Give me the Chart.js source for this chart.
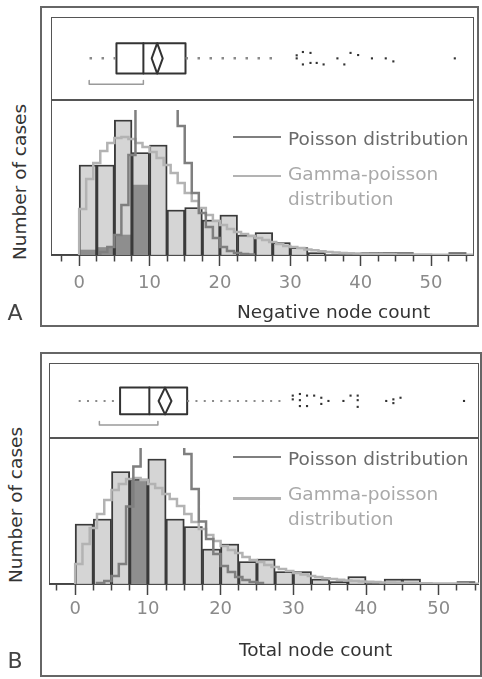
<!DOCTYPE html>
<html>
<head>
<meta charset="utf-8">
<title>Node count distributions</title>
<script src="https://cdn.jsdelivr.net/npm/chart.js@4.4.1/dist/chart.umd.min.js"></script>
<style>
  html,body{margin:0;padding:0;background:#fff;}
  body{position:relative;width:482px;height:679px;overflow:hidden;font-family:"DejaVu Sans",sans-serif;}
  .frame{position:absolute;box-sizing:border-box;}
  .outer{border:2px solid #666;}
  .inner{border:1.5px solid #555;}
  .hline{position:absolute;height:1.5px;background:#555;}
  canvas{position:absolute;}
  .txt{position:absolute;white-space:nowrap;font-size:18.5px;line-height:25px;}
  .vtxt{position:absolute;white-space:nowrap;font-size:18.5px;line-height:19px;color:#333;transform:translate(-50%,-50%) rotate(-90deg);}
  .panel{position:absolute;font-size:22px;line-height:22px;color:#444;transform:translate(-50%,-50%);}
  .swatch{position:absolute;height:2.5px;width:48px;}
</style>
</head>
<body>

<!-- Panel A frames -->
<div class="frame outer" style="left:40px;top:6px;width:439px;height:321px;"></div>
<div class="frame inner" style="left:51px;top:17px;width:423px;height:239px;"></div>
<div class="hline" style="left:51px;top:99px;width:423px;"></div>
<canvas id="boxA" width="423" height="82" style="left:51px;top:17px;"></canvas>
<canvas id="histA" width="423" height="217" style="left:51px;top:110px;"></canvas>
<div class="swatch" style="left:233px;top:135.5px;background:#7f7f7f;"></div>
<div class="txt" style="left:288px;top:126px;color:#6a6a6a;">Poisson distribution</div>
<div class="swatch" style="left:233px;top:174.5px;background:#b3b3b3;"></div>
<div class="txt" style="left:288px;top:161px;color:#a9a9a9;">Gamma-poisson<br>distribution</div>
<div class="txt" style="left:237px;top:299px;color:#333;">Negative node count</div>
<div class="vtxt" style="left:19px;top:182px;">Number of cases</div>
<div class="panel" style="left:15px;top:313px;">A</div>

<!-- Panel B frames -->
<div class="frame outer" style="left:40px;top:352px;width:442px;height:325px;"></div>
<div class="frame inner" style="left:49px;top:363px;width:430px;height:222px;"></div>
<div class="hline" style="left:49px;top:437px;width:430px;"></div>
<canvas id="boxB" width="430" height="75" style="left:49px;top:363px;"></canvas>
<canvas id="histB" width="430" height="206" style="left:49px;top:448px;"></canvas>
<div class="swatch" style="left:233px;top:455.5px;background:#7f7f7f;"></div>
<div class="txt" style="left:288px;top:446px;color:#6a6a6a;">Poisson distribution</div>
<div class="swatch" style="left:233px;top:497px;background:#b3b3b3;"></div>
<div class="txt" style="left:288px;top:481px;color:#a9a9a9;">Gamma-poisson<br>distribution</div>
<div class="txt" style="left:239px;top:637px;color:#333;">Total node count</div>
<div class="vtxt" style="left:15px;top:505px;">Number of cases</div>
<div class="panel" style="left:15px;top:661px;">B</div>

<script>
// ---------------- DATA ----------------
// histogram bins (lower edges), bin width 2.5 nodes
const bins = [0, 2.5, 5, 7.5, 10, 12.5, 15, 17.5, 20, 22.5, 25, 27.5, 30, 32.5, 35, 37.5, 40, 42.5, 45, 47.5, 50, 52.5];
const binWidth = 2.5;

// Panel A: negative node count
const negativeCounts    = [36, 36, 54, 41, 44, 18, 19, 14, 16, 8, 9, 5, 3, 1, 0, 0, 1, 1, 1, 0, 0, 1];
const negativeHighlight = [2, 3, 8, 28, 0, 0, 0, 0, 0, 0, 0, 0, 0, 0, 0, 0, 0, 0, 0, 0, 0, 0];
// fitted expected cases per bin, indexed by node count k = 0,1,2,...
const poissonNegative = [0, 0, 0, 1.2, 3.2, 8, 20, 40, 68, 90, 100, 100, 92, 78, 51.6, 36.8, 24.8, 16.8, 11.2, 6.8, 3.2, 1.6, 0.8, 0.4, 0.2];
const gammaNegative = [18.4, 30.4, 36.8, 41.6, 44.8, 46.8, 47.2, 46.4, 44.8, 43.2,
                       41.2, 38.8, 36, 32.8, 28.8, 24.8, 21.6, 18.8, 16, 13.6,
                       12, 10.4, 9.2, 8.4, 7.6, 6.8, 6, 5.2, 4.4, 3.6,
                       3.2, 2.8, 2.2, 1.9, 1.5, 1.2, 1.0, 0.8, 0.7, 0.6,
                       0.5, 0.4, 0.4, 0.3, 0.3, 0.2, 0.2, 0.2, 0.2, 0.2,
                       0.1, 0.1, 0.1, 0.1, 0.1, 0.1];
// box plot: [whisker low, Q1, median, Q3, whisker high]
const boxNegative = [1, 4.9, 8.8, 14.9, 28.5];
const meanCiNegative = [10.0, 10.8, 11.6];      // lower CI, mean, upper CI
const shortestHalfNegative = [0.95, 8.8];
const outliersNegative = [31, 31, 31.9, 31.9, 33, 33, 33.9, 34.9, 36.9, 37.9, 38.8, 39.9, 41.9, 43.9, 45, 53.9];
const jitterNegative   = [0.1, 0.0, 0.21, -0.2, 0.18, -0.15, -0.15, -0.2, 0, -0.2, 0.18, 0.11, 0, 0, -0.1, 0];

// Panel B: total node count
const totalCounts    = [24, 26, 45, 42, 50, 26, 23, 14, 16, 9, 10, 5, 5, 2, 1, 3, 0, 2, 2, 0, 0, 1];
const totalHighlight = [0, 0, 0, 42, 0, 0, 0, 0, 0, 0, 0, 0, 0, 0, 0, 0, 0, 0, 0, 0, 0, 0];
const poissonTotal = [0, 0, 0, 0.4, 1.2, 3.2, 8, 31, 47, 64, 80, 88, 90, 85, 72, 52, 38, 25, 18, 12, 7.2, 4.8, 2.8, 1.6, 0.8, 0.4];
const gammaTotal = [8, 16, 22.4, 28, 33.6, 37.6, 40, 42, 42.4, 41.6,
                    40, 38.4, 36, 34, 31.2, 28, 24.8, 22, 19.6, 17.2,
                    15.2, 13.6, 12.4, 10.8, 9.6, 8.8, 7.6, 6.8, 6, 5.2,
                    4.4, 3.8, 3.2, 2.8, 2.3, 2, 1.7, 1.4, 1.2, 1.0,
                    0.9, 0.8, 0.6, 0.6, 0.5, 0.4, 0.4, 0.3, 0.3, 0.2,
                    0.2, 0.2, 0.2, 0.2, 0.1, 0.1];
const boxTotal = [0, 5.8, 9.9, 15.2, 28.4];
const meanCiTotal = [11.2, 12.1, 13.0];
const shortestHalfTotal = [2.9, 11.1];
const outliersTotal = [30, 30, 31, 31, 31, 32, 32, 33, 34, 34, 35, 37.1, 38.1, 39.1, 39.1, 39.1, 43.1, 44.1, 44.1, 45.1, 54];
const jitterTotal   = [0.2, 0.06, 0.26, 0.03, -0.19, 0.2, -0.19, 0.2, 0.12, -0.11, 0, 0, 0.2, 0.2, 0.03, -0.22, 0, 0.06, -0.08, 0.12, 0];

// axis ticks
const tickValues = [-2.5, 0, 2.5, 5, 7.5, 10, 12.5, 15, 17.5, 20, 22.5, 25, 27.5, 30, 32.5, 35, 37.5, 40, 42.5, 45, 47.5, 50, 52.5, 55];
const tickLabels = ['', '0', '', '', '', '10', '', '', '', '20', '', '', '', '30', '', '', '', '40', '', '', '', '50', '', ''];
const majorTicks = [0, 10, 20, 30, 40, 50];

// ---------------- STYLE ----------------
Chart.defaults.font.family = '"DejaVu Sans", sans-serif';
const POIS_COLOR = '#7f7f7f';
const GAMMA_COLOR = '#b3b3b3';
const BAR_FILL = '#d5d5d5';
const HIGHLIGHT_FILL = '#8e8e8e';
const OUTLINE = '#3a3a3a';

function stepPoints(arr) {
  let first = arr.findIndex(v => v > 0);
  let last = arr.length - 1;
  while (last > first && !(arr[last] > 0)) last--;
  const pts = [{x: first, y: 0}];
  for (let k = first; k <= last; k++) pts.push({x: k, y: arr[k]});
  pts.push({x: last + 1, y: arr[last]});
  return pts;
}

function makeHist(id, p) {
  const centers = bins.map(b => b + binWidth / 2);
  const barData = centers.map((c, i) => ({x: c, y: p.counts[i]}));
  const hiData = centers.map((c, i) => ({x: c, y: p.highlight[i]}));
  const barCommon = {grouped: false, barPercentage: 1, categoryPercentage: 1};
  return new Chart(document.getElementById(id), {
    type: 'bar',
    data: {
      datasets: [
        {type: 'line', label: 'Poisson distribution', data: stepPoints(p.poisson), stepped: true,
         borderColor: POIS_COLOR, borderWidth: 2.5, pointRadius: 0, fill: false, order: 0},
        {type: 'line', label: 'Gamma-poisson distribution', data: stepPoints(p.gamma), stepped: true,
         borderColor: GAMMA_COLOR, borderWidth: 2.5, pointRadius: 0, fill: false, order: 1},
        Object.assign({label: 'outline', data: barData, backgroundColor: 'rgba(0,0,0,0)',
         borderColor: OUTLINE, borderWidth: 1.2, order: 2}, barCommon),
        Object.assign({label: 'highlight', data: hiData, backgroundColor: HIGHLIGHT_FILL,
         borderWidth: 0, order: 3}, barCommon),
        Object.assign({label: 'cases', data: barData, backgroundColor: BAR_FILL,
         borderWidth: 0, order: 4}, barCommon)
      ]
    },
    options: {
      responsive: false, animation: false, events: [], devicePixelRatio: 1,
      layout: {padding: 0},
      plugins: {legend: {display: false}, tooltip: {enabled: false}},
      scales: {
        x: {
          type: 'linear', min: p.xmin, max: p.xmax, offset: false, z: 1,
          grid: {offset: false, drawOnChartArea: false, drawTicks: true, tickLength: 11,
                 tickColor: '#444', tickWidth: 1.5,
                 tickBorderDash: c => (c.tick && majorTicks.includes(c.tick.value)) ? [] : [6, 40]},
          border: {display: true, color: '#444', width: 1.5},
          ticks: {autoSkip: false, maxRotation: 0, minRotation: 0, padding: p.tickPad,
                  color: '#8a8a8a', font: {size: 18},
                  callback: (v, i) => tickLabels[i]},
          afterBuildTicks: s => { s.ticks = tickValues.map(v => ({value: v})); },
          afterFit: s => { s.height = p.axisH; s.paddingLeft = 0; s.paddingRight = 0; }
        },
        y: {display: false, min: 0, max: p.ymax}
      }
    }
  });
}

function makeBox(id, p) {
  const [wl, q1, med, q3, wh] = p.box;
  const g = p.geom;
  const h = g.hi - g.lo;
  const line = (data, extra) => Object.assign({data, showLine: true, pointRadius: 0, fill: false,
                  borderColor: '#333', borderWidth: 2, borderJoinStyle: 'round', borderCapStyle: 'round', clip: false}, extra || {});
  return new Chart(document.getElementById(id), {
    type: 'scatter',
    data: {
      datasets: [
        line([{x: wl, y: g.mid}, {x: q1, y: g.mid}], {borderColor: '#8a8a8a', borderWidth: p.dotW, borderDash: p.dash, borderCapStyle: 'butt'}),
        line([{x: q3, y: g.mid}, {x: wh, y: g.mid}], {borderColor: '#8a8a8a', borderWidth: p.dotW, borderDash: p.dash, borderCapStyle: 'butt'}),
        line([{x: q1, y: g.lo}, {x: q1, y: g.hi}, {x: q3, y: g.hi}, {x: q3, y: g.lo}, {x: q1, y: g.lo}]),
        line([{x: med, y: g.lo}, {x: med, y: g.hi}]),
        line([{x: p.ci[0], y: g.mid}, {x: p.ci[1], y: g.hi}, {x: p.ci[2], y: g.mid}, {x: p.ci[1], y: g.lo}, {x: p.ci[0], y: g.mid}]),
        line([{x: p.half[0], y: g.brTop}, {x: p.half[0], y: g.br}, {x: p.half[1], y: g.br}, {x: p.half[1], y: g.brTop}],
             {borderColor: '#9a9a9a', borderWidth: 1.5}),
        {data: p.outliers.map((v, i) => ({x: v, y: g.mid + p.jitter[i] * h})), showLine: false,
         pointStyle: 'rect', pointRadius: 1.5, backgroundColor: '#333', borderWidth: 0, clip: false}
      ]
    },
    options: {
      responsive: false, animation: false, events: [], devicePixelRatio: 1,
      layout: {padding: 0},
      plugins: {legend: {display: false}, tooltip: {enabled: false}},
      scales: {
        x: {type: 'linear', display: false, min: p.xmin, max: p.xmax},
        y: {type: 'linear', display: false, min: 0, max: 1}
      }
    }
  });
}

// Panel A
makeBox('boxA', {box: boxNegative, ci: meanCiNegative, half: shortestHalfNegative,
  outliers: outliersNegative, jitter: jitterNegative, xmin: -4.0, xmax: 56.1,
  geom: {lo: 0.29, hi: 0.70, mid: 0.495, br: 0.145, brTop: 0.195}, dash: [2.5, 9.5], dotW: 2.5});
makeHist('histA', {counts: negativeCounts, highlight: negativeHighlight, poisson: poissonNegative,
  gamma: gammaNegative, xmin: -4.0, xmax: 56.1, ymax: 58, axisH: 72, tickPad: 7});

// Panel B
makeBox('boxB', {box: boxTotal, ci: meanCiTotal, half: shortestHalfTotal,
  outliers: outliersTotal, jitter: jitterTotal, xmin: -3.6, xmax: 55.54,
  geom: {lo: 0.293, hi: 0.693, mid: 0.493, br: 0.133, brTop: 0.187}, dash: [2, 6.3], dotW: 2});
makeHist('histB', {counts: totalCounts, highlight: totalHighlight, poisson: poissonTotal,
  gamma: gammaTotal, xmin: -3.6, xmax: 55.54, ymax: 54.4, axisH: 70, tickPad: 3.5});
</script>
</body>
</html>
